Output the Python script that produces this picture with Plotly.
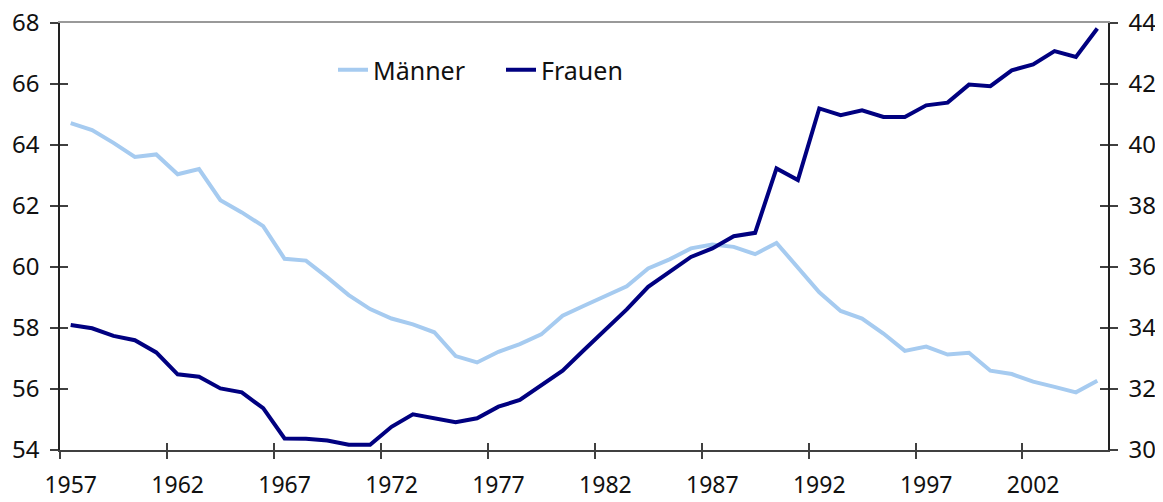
import plotly.graph_objects as go

years = list(range(1957, 2006))
maenner = [64.72, 64.49, 64.07, 63.61, 63.69, 63.04, 63.21, 62.19, 61.79, 61.34,
           60.27, 60.21, 59.66, 59.08, 58.62, 58.31, 58.12, 57.86, 57.08,
           56.87, 57.22, 57.47, 57.79, 58.40, 58.73, 59.05, 59.37, 59.95,
           60.25, 60.61, 60.74, 60.66, 60.42, 60.79, 60.00, 59.17,
           58.56, 58.31, 57.82, 57.25, 57.39, 57.13, 57.19, 56.60,
           56.49, 56.24, 56.07, 55.89, 56.27]
frauen = [34.10, 33.99, 33.74, 33.60, 33.20, 32.48, 32.40, 32.02, 31.89, 31.37,
          30.38, 30.37, 30.31, 30.17, 30.17, 30.76, 31.17, 31.04, 30.91,
          31.04, 31.42, 31.64, 32.13, 32.60, 33.28, 33.93, 34.61, 35.35,
          35.84, 36.33, 36.61, 37.01, 37.12, 39.23, 38.85, 41.20,
          40.98, 41.14, 40.92, 40.92, 41.30, 41.39, 41.98, 41.93,
          42.45, 42.64, 43.08, 42.89, 43.82]
label_years = list(range(1957, 2006, 5))
left_ticks = list(range(54, 69, 2))
right_ticks = list(range(30, 45, 2))

FONT = "Noto Sans"
AXC = "#404040"
xr = [years[0] - 0.5, years[-1] + 0.5]
bounds = [y - 0.5 for y in label_years]

# page body adds an 8px offset; figure sized so it fills the 1163x502 window
W, H = 1155, 494
ML, MR, MT, MB = 52, 55, 15, 52
PW, PH = W - ML - MR, H - MT - MB

fig = go.Figure()
fig.add_trace(go.Scatter(x=years, y=maenner, name="Männer", mode="lines",
                         line=dict(color="#A6CBF0", width=4), yaxis="y"))
fig.add_trace(go.Scatter(x=years, y=frauen, name="Frauen", mode="lines",
                         line=dict(color="#000080", width=4), yaxis="y2"))

fig.update_layout(
    width=W, height=H,
    margin=dict(l=ML, r=MR, t=MT, b=MB, pad=0),
    paper_bgcolor="white", plot_bgcolor="white",
    font=dict(family=FONT, size=24, color="#111111"),
    showlegend=True,
    legend=dict(orientation="h", x=(325 - ML) / PW, y=(442 - 62) / PH, xanchor="left",
                yanchor="middle", bgcolor="rgba(0,0,0,0)", font=dict(size=25),
                entrywidth=123, entrywidthmode="pixels", borderwidth=0),
    xaxis=dict(range=xr, tickvals=label_years, ticktext=[str(v) for v in label_years],
               ticks="", showgrid=False, zeroline=False, showline=True,
               linecolor=AXC, linewidth=1.5, ticklabelstandoff=14, automargin=False,
               ticklabeloverflow="allow", tickfont=dict(size=23)),
    xaxis2=dict(range=xr, overlaying="x", anchor="y", side="bottom",
                tickvals=bounds, ticktext=["" for _ in bounds], ticks="outside",
                ticklen=8, tickcolor=AXC, tickwidth=1.5, showgrid=False,
                zeroline=False, showline=False, automargin=False),
    xaxis3=dict(range=xr, overlaying="x", anchor="y", side="bottom",
                tickvals=bounds, ticktext=["" for _ in bounds], ticks="inside",
                ticklen=7, tickcolor=AXC, tickwidth=1.5, showgrid=False,
                zeroline=False, showline=False, automargin=False),
    xaxis4=dict(range=xr, overlaying="x", anchor="y", side="top",
                showticklabels=False, ticks="", showgrid=False, zeroline=False,
                showline=True, linecolor="#999999", linewidth=1.5, automargin=False),
    yaxis=dict(range=[54, 68], tickvals=left_ticks, ticks="outside", ticklen=8,
               tickcolor=AXC, tickwidth=1.5, showgrid=False, zeroline=False,
               showline=True, linecolor="#222222", linewidth=1.5, ticklabelstandoff=6,
               automargin=False, ticklabeloverflow="allow"),
    yaxis3=dict(range=[54, 68], overlaying="y", side="left", tickvals=left_ticks,
                ticktext=["" for _ in left_ticks], ticks="inside", ticklen=8,
                tickcolor=AXC, tickwidth=1.5, showgrid=False, zeroline=False,
                showline=False, automargin=False),
    yaxis2=dict(range=[30, 44], overlaying="y", side="right", anchor="x",
                tickvals=right_ticks, ticks="outside", ticklen=8, tickcolor=AXC,
                tickwidth=1.5, showgrid=False, zeroline=False, showline=True,
                linecolor="#222222", linewidth=1.5, ticklabelstandoff=6,
                automargin=False, ticklabeloverflow="allow"),
    yaxis4=dict(range=[30, 44], overlaying="y", side="right", anchor="x",
                tickvals=right_ticks, ticktext=["" for _ in right_ticks],
                ticks="inside", ticklen=8, tickcolor=AXC, tickwidth=1.5,
                showgrid=False, zeroline=False, showline=False, automargin=False),
)
# invisible helper traces so the tick-only overlay axes are drawn
fig.add_trace(go.Scatter(x=[xr[0]], y=[54], xaxis="x2", yaxis="y3", mode="markers",
                         marker=dict(opacity=0), showlegend=False, hoverinfo="skip"))
fig.add_trace(go.Scatter(x=[xr[0]], y=[30], xaxis="x3", yaxis="y4", mode="markers",
                         marker=dict(opacity=0), showlegend=False, hoverinfo="skip"))
fig.add_trace(go.Scatter(x=[xr[0]], y=[54], xaxis="x4", yaxis="y", mode="markers",
                         marker=dict(opacity=0), showlegend=False, hoverinfo="skip"))

fig.write_html("out.html")
